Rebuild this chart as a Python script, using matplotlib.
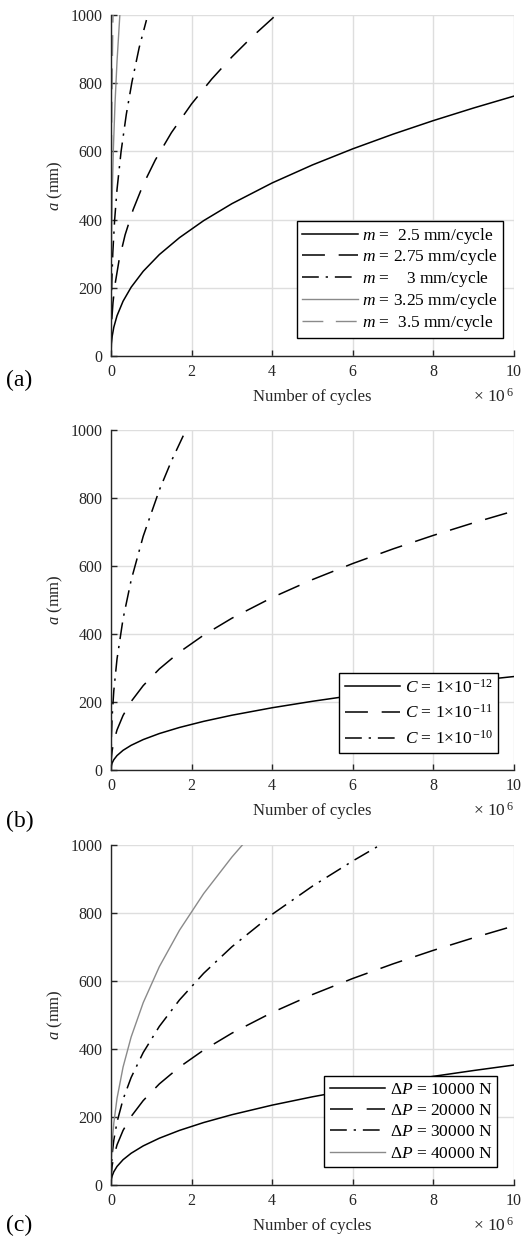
import matplotlib
matplotlib.use("Agg")
import matplotlib.pyplot as plt

# cycles are in millions (x 10^6), crack length a in mm
# panel (a): effect of m
n_m250 = [0, 0.01, 0.03, 0.07, 0.15, 0.3, 0.5, 0.8, 1.2, 1.7, 2.3, 3, 4, 5, 6, 7, 8, 9, 10]
a_m250 = [0, 35.5, 57.8, 84.2, 118.0, 160.6, 201.5, 248.3, 297.3, 346.9, 396.8, 446.5,
          507.4, 560.2, 607.4, 650.4, 690.2, 727.2, 762.0]
n_m275 = [0, 0.005, 0.02, 0.05, 0.1, 0.2, 0.35, 0.55, 0.8, 1.1, 1.5, 2.0, 2.5, 3.0, 3.5, 4.1]
a_m275 = [0, 59.4, 106.4, 156.4, 209.4, 280.4, 354.9, 429.2, 502.6, 574.7, 654.9, 739.2,
          812.0, 876.8, 935.6, 1000.0]
n_m300 = [0, 0.002, 0.008, 0.02, 0.045, 0.09, 0.15, 0.25, 0.38, 0.52, 0.7, 0.88]
a_m300 = [0, 86.8, 151.2, 218.1, 301.7, 398.1, 488.4, 599.0, 708.3, 803.0, 904.4, 985.0]
n_m325 = [0, 0.0005, 0.002, 0.006, 0.015, 0.03, 0.06, 0.1, 0.15, 0.22]
a_m325 = [0, 98.4, 166.8, 253.5, 359.4, 468.1, 609.6, 740.5, 864.2, 1000.0]
n_m350 = [0, 0.0001, 0.0005, 0.002, 0.006, 0.015, 0.03, 0.05]
a_m350 = [0, 104.0, 187.0, 310.0, 462.0, 645.0, 830.0, 1000.0]
labels_m = [r"$m$ =  2.5 mm/cycle", r"$m$ = 2.75 mm/cycle", r"$m$ =    3 mm/cycle",
            r"$m$ = 3.25 mm/cycle", r"$m$ =  3.5 mm/cycle"]

# panel (b): effect of C
n_c12 = n_m250
a_c12 = [0, 12.8, 20.9, 30.4, 42.6, 58.0, 72.7, 89.6, 107.3, 125.2, 143.2, 161.2,
         183.2, 202.2, 219.3, 234.8, 249.2, 262.5, 275.0]
n_c11 = n_m250
a_c11 = a_m250
n_c10 = [0, 0.01, 0.03, 0.07, 0.15, 0.3, 0.5, 0.8, 1.2, 1.5, 1.86]
a_c10 = [0, 98.3, 160.1, 233.2, 326.9, 444.9, 558.2, 687.8, 823.5, 909.1, 1000.0]
labels_c = [r"$C$ = 1×10$^{\,\mathrm{-12}}$", r"$C$ = 1×10$^{\,\mathrm{-11}}$",
            r"$C$ = 1×10$^{\,\mathrm{-10}}$"]

# panel (c): effect of load range
n_p10 = n_m250
a_p10 = [0, 16.4, 26.8, 39.0, 54.6, 74.4, 93.3, 115.0, 137.6, 160.6, 183.7, 206.7,
         234.9, 259.4, 281.2, 301.1, 319.6, 336.7, 352.8]
n_p20 = n_m250
a_p20 = a_m250
n_p30 = [0, 0.01, 0.03, 0.07, 0.15, 0.3, 0.5, 0.8, 1.2, 1.7, 2.3, 3, 4, 5, 6, 6.68]
a_p30 = [0, 55.7, 90.7, 132.1, 185.1, 252.0, 316.2, 389.6, 466.5, 544.3, 622.6, 700.6,
         796.1, 879.0, 953.0, 1000.0]
n_p40 = [0, 0.01, 0.03, 0.07, 0.15, 0.3, 0.5, 0.8, 1.2, 1.7, 2.3, 3, 3.26]
a_p40 = [0, 76.7, 124.8, 181.9, 254.9, 346.9, 435.2, 536.3, 642.2, 749.3, 857.1, 964.4, 1000.0]
labels_p = [r"Δ$P$ = 10000 N", r"Δ$P$ = 20000 N", r"Δ$P$ = 30000 N", r"Δ$P$ = 40000 N"]

plt.rcParams['font.family'] = ['Liberation Serif', 'DejaVu Serif']
plt.rcParams['mathtext.fontset'] = 'custom'
plt.rcParams['mathtext.rm'] = 'Liberation Serif'
plt.rcParams['mathtext.it'] = 'Liberation Serif:italic'

TXT = '#262626'
GRAY = '#8a8a8a'
SOLID = dict(color='black', lw=1.1, linestyle='-')
DASH = dict(color='black', lw=1.1, linestyle=(0, (15, 9)))
DASHDOT = dict(color='black', lw=1.1, linestyle=(0, (11, 4.5, 1.5, 4.5)))
GSOLID = dict(color=GRAY, lw=1.0, linestyle='-')
GDASH = dict(color=GRAY, lw=1.0, linestyle=(0, (15, 9)))


def style_axes(fig, ax, panel, label_y):
    ax.set_xlim(0, 10)
    ax.set_ylim(0, 1000)
    ax.set_xticks(range(0, 11, 2))
    ax.set_yticks(range(0, 1001, 200))
    for side in ['top', 'right']:
        ax.spines[side].set_visible(False)
    for side in ['left', 'bottom']:
        ax.spines[side].set_color(TXT)
        ax.spines[side].set_linewidth(1.0)
    ax.grid(True, color='#dedede', lw=1.0)
    ax.set_axisbelow(True)
    ax.tick_params(direction='in', length=4, width=1, labelsize=11.5, colors=TXT, pad=6)
    ax.set_xlabel('Number of cycles', fontsize=12, color=TXT, labelpad=6)
    ax.set_ylabel(r'$a$ (mm)', fontsize=12, color=TXT, labelpad=4)
    ax.text(1.0, -0.12, r'× 10$^{\,6}$', transform=ax.transAxes, ha='right',
            va='center', fontsize=12.5, color=TXT)
    fig.text(0.012, label_y, panel, fontsize=17, ha='left', va='center')


def add_legend(ax, handles, labels, x, y, spacing):
    leg = ax.legend(handles, labels, loc='lower right', bbox_to_anchor=(x, y),
                    borderaxespad=0, fontsize=12.5, handlelength=3.2, handletextpad=0.25,
                    labelspacing=spacing, borderpad=0.3, fancybox=False, framealpha=1,
                    edgecolor='black')
    leg.get_frame().set_linewidth(1.0)


fig = plt.figure(figsize=(5.3, 12.45), dpi=100)
left, width = 0.2094, 0.7604

ax1 = fig.add_axes([left, 0.7141, width, 0.2739])
h = [ax1.plot(n_m250, a_m250, **SOLID)[0],
     ax1.plot(n_m275, a_m275, **DASH)[0],
     ax1.plot(n_m300, a_m300, **DASHDOT)[0],
     ax1.plot(n_m325, a_m325, **GSOLID)[0],
     ax1.plot(n_m350, a_m350, **GDASH)[0]]
style_axes(fig, ax1, '(a)', 0.6948)
add_legend(ax1, h, labels_m, 0.973, 0.053, 0.1)

ax2 = fig.add_axes([left, 0.3815, width, 0.2731])
h = [ax2.plot(n_c12, a_c12, **SOLID)[0],
     ax2.plot(n_c11, a_c11, **DASH)[0],
     ax2.plot(n_c10, a_c10, **DASHDOT)[0]]
style_axes(fig, ax2, '(b)', 0.3398)
add_legend(ax2, h, labels_c, 0.960, 0.05, 0.45)

ax3 = fig.add_axes([left, 0.0482, width, 0.2731])
h = [ax3.plot(n_p10, a_p10, **SOLID)[0],
     ax3.plot(n_p20, a_p20, **DASH)[0],
     ax3.plot(n_p30, a_p30, **DASHDOT)[0],
     ax3.plot(n_p40, a_p40, **GSOLID)[0]]
style_axes(fig, ax3, '(c)', 0.0161)
add_legend(ax3, h, labels_p, 0.958, 0.053, 0.3)

fig.savefig('out.png', dpi=100)
plt.close(fig)
print("Saved out.png")
